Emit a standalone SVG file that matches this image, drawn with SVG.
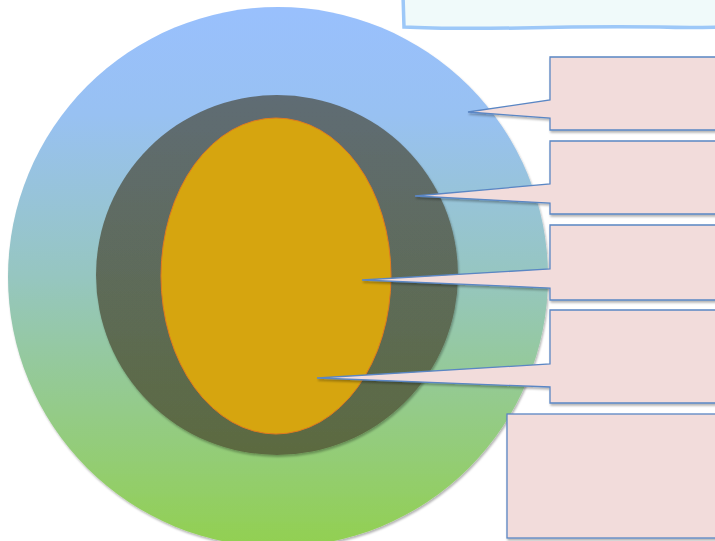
<svg xmlns="http://www.w3.org/2000/svg" width="715" height="541" viewBox="0 0 715 541">
<defs>
<linearGradient id="gOuter" x1="0" y1="0" x2="0" y2="1">
<stop offset="0" stop-color="#99c0fd"/>
<stop offset="0.2" stop-color="#98c1f2"/>
<stop offset="0.5" stop-color="#96c6c0"/>
<stop offset="1" stop-color="#92d050"/>
</linearGradient>
<linearGradient id="gMid" x1="0" y1="0" x2="0" y2="1">
<stop offset="0" stop-color="#5f6c74"/>
<stop offset="1" stop-color="#5c6b40"/>
</linearGradient>
<filter id="sh" x="-10%" y="-10%" width="130%" height="130%">
<feGaussianBlur in="SourceAlpha" stdDeviation="1.2"/>
<feOffset dx="1" dy="2" result="b"/>
<feFlood flood-color="#000" flood-opacity="0.3"/>
<feComposite in2="b" operator="in"/>
<feMerge><feMergeNode/><feMergeNode in="SourceGraphic"/></feMerge>
</filter>
</defs>
<style>
.call{fill:#f2dcdb;stroke:#5a86c4;stroke-width:1.3;filter:url(#sh)}
</style>
<rect width="715" height="541" fill="#fff"/>
<g id="outer"><circle cx="278" cy="277" r="270" fill="url(#gOuter)" filter="url(#sh)"/></g>
<g id="middle"><ellipse cx="277" cy="275" rx="181" ry="180" fill="url(#gMid)" filter="url(#sh)"/></g>
<g id="core"><ellipse cx="276" cy="276" rx="115" ry="158" fill="#d6a50f" stroke="#e07a20" stroke-width="1"/></g>
<g id="title"><path d="M403,-5 L404,27 Q440,29 520,28 Q600,26 660,27 Q690,28 720,27 L720,-5 Z" fill="#f0fafa" stroke="#9dc8f8" stroke-width="3.5"/></g>
<g id="connectors">
<g id="callout1"><path class="call" d="M550,57 L720,57 L720,130 L550,130 L550,118 L468,112 L550,100 Z"/></g>
<g id="callout2"><path class="call" d="M550,141 L720,141 L720,214 L550,214 L550,203 L415,196 L550,184 Z"/></g>
<g id="callout3"><path class="call" d="M550,225 L720,225 L720,300 L550,300 L550,288 L362,280 L550,269 Z"/></g>
<g id="callout4"><path class="call" d="M550,310 L720,310 L720,403 L550,403 L550,387 L317,378 L550,364 Z"/></g>
</g>
<g id="box5"><rect class="call" x="507" y="414" width="213" height="124"/></g>
</svg>
